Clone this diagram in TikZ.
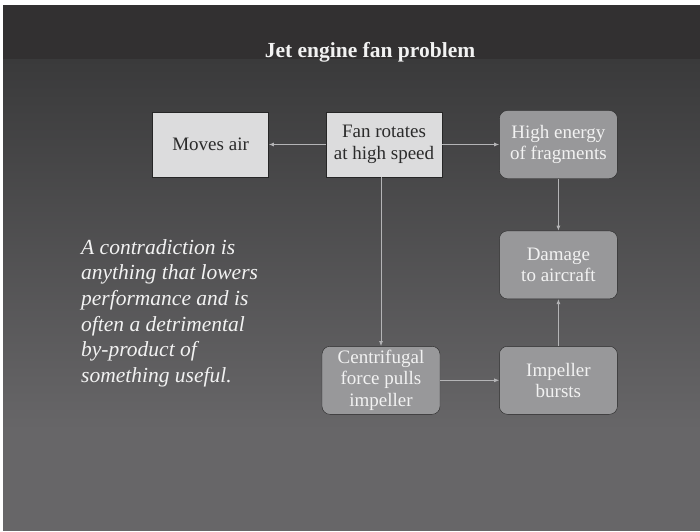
\documentclass[tikz,border=0pt]{standalone}
\usepackage{fontspec}
\setmainfont{Liberation Serif}
\usetikzlibrary{arrows.meta,positioning}
\definecolor{slidetop}{HTML}{323031}
\definecolor{slidemid}{HTML}{3A3A3B}
\definecolor{slidelow}{HTML}{676668}
\definecolor{boxlight}{HTML}{DCDCDD}
\definecolor{boxdark}{HTML}{98989A}
\definecolor{boxedge}{HTML}{262626}
\definecolor{linkgray}{HTML}{B4B4B6}
\definecolor{inkdark}{HTML}{2B2B2B}
\definecolor{inklight}{HTML}{F2F2F2}

\begin{document}
\begin{tikzpicture}[x=1pt,y=-1pt,node distance=52pt and 57pt,>={Latex[length=5pt,width=4pt]},font=\fontsize{19}{21.5}\selectfont]

\tikzset{
lb/.style={
    draw=boxedge,
    fill=boxlight,
    text=inkdark,
    minimum width=116pt,
    minimum height=65pt,
    inner sep=0pt,
    align=center
},
db/.style={
    draw=boxedge,
    rounded corners=8pt,
    fill=boxdark,
    text=inklight,
    minimum width=118pt,
    minimum height=68pt,
    inner sep=0pt,
    align=center
},
a/.style={->,line width=0.8pt,color=linkgray}
}

% slide background
\useasboundingbox (0,0) rectangle (700,531);
\fill[white] (0,0) rectangle (700,531);
\fill[slidetop] (3,5) rectangle (700,59);
\fill[slidelow] (3,430) rectangle (700,531);
\shade[top color=slidemid,bottom color=slidelow] (3,59) rectangle (700,430.5);

\node[anchor=base,text=inklight,font=\bfseries\fontsize{21.5}{25}\selectfont] (title) at (370,57) {Jet engine fan problem};

\node[lb] (fan) at (384,144.5) {Fan rotates\\at high speed};
\node[lb,left=of fan] (moves) {Moves air};
\node[db,right=of fan] (hi) {High energy\\of fragments};
\node[db,below=of hi] (dmg) {Damage\\to aircraft};
\node[db,below=47pt of dmg] (imp) {Impeller\\bursts};
\node[db,left=59pt of imp] (cf) {Centrifugal\\force pulls\\impeller};

\node[anchor=north west,inner sep=0pt,align=left,text=inklight,font=\itshape\fontsize{21.5}{25.7}\selectfont] (note) at (81,239)
  {A contradiction is\\anything that lowers\\performance and is\\often a detrimental\\by-product of\\something useful.};

\draw[a] (fan) -- (moves);
\draw[a] (fan) -- (hi);
\draw[a] (fan.south -| cf.north) -- (cf.north);
\draw[a] (cf) -- (imp);
\draw[a] (hi) -- (dmg);
\draw[a] (imp) -- (dmg);

\end{tikzpicture}
\end{document}
